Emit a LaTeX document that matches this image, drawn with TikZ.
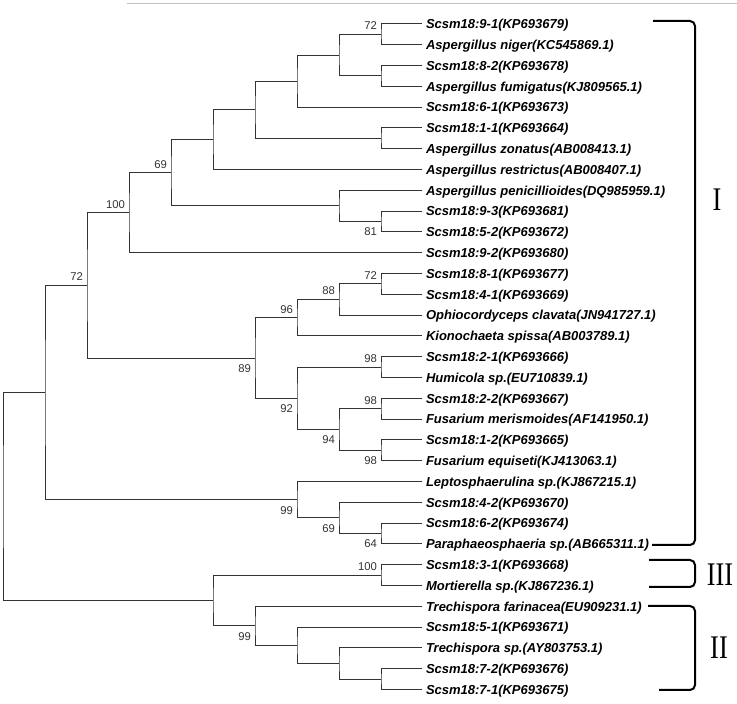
\documentclass[tikz,border=0pt]{standalone}
\usepackage{fontspec}
\usepackage{tikz}
\usetikzlibrary{calc}
\newfontfamily\treefont{Liberation Sans}
\newfontfamily\romanfont{Liberation Serif}

\begin{document}
\begin{tikzpicture}[x=1pt,y=1pt,inner sep=0pt,outer sep=0pt,
    branch/.style={draw=black!80,line width=1pt},
    leaf/.style={anchor=west,inner xsep=4pt,text height=9.3pt,text depth=0pt,
        font=\treefont\bfseries\itshape\fontsize{13}{14}\selectfont},
    bsup/.style={anchor=south east,text=black!80,font=\treefont\fontsize{11.3}{12}\selectfont},
    bsdown/.style={anchor=north east,text=black!80,font=\treefont\fontsize{11.3}{12}\selectfont},
    clade/.style={draw=black,line width=2pt,rounded corners=5pt},
    cladename/.style={font=\romanfont\fontsize{33}{33}\selectfont}]
    %
    \useasboundingbox (0,0) rectangle (737,704);
    \draw[black!25,line width=0.8pt] (127,701) -- (737,701);
    %
    % leaves
    \foreach \lname [count=\i] in {
        {Scsm18:9-1(KP693679)}, {Aspergillus niger(KC545869.1)},
        {Scsm18:8-2(KP693678)}, {Aspergillus fumigatus(KJ809565.1)},
        {Scsm18:6-1(KP693673)}, {Scsm18:1-1(KP693664)},
        {Aspergillus zonatus(AB008413.1)}, {Aspergillus restrictus(AB008407.1)},
        {Aspergillus penicillioides(DQ985959.1)}, {Scsm18:9-3(KP693681)},
        {Scsm18:5-2(KP693672)}, {Scsm18:9-2(KP693680)},
        {Scsm18:8-1(KP693677)}, {Scsm18:4-1(KP693669)},
        {Ophiocordyceps clavata(JN941727.1)}, {Kionochaeta spissa(AB003789.1)},
        {Scsm18:2-1(KP693666)}, {Humicola sp.(EU710839.1)},
        {Scsm18:2-2(KP693667)}, {Fusarium merismoides(AF141950.1)},
        {Scsm18:1-2(KP693665)}, {Fusarium equiseti(KJ413063.1)},
        {Leptosphaerulina sp.(KJ867215.1)}, {Scsm18:4-2(KP693670)},
        {Scsm18:6-2(KP693674)}, {Paraphaeosphaeria sp.(AB665311.1)},
        {Scsm18:3-1(KP693668)}, {Mortierella sp.(KJ867236.1)},
        {Trechispora farinacea(EU909231.1)}, {Scsm18:5-1(KP693671)},
        {Trechispora sp.(AY803753.1)}, {Scsm18:7-2(KP693676)},
        {Scsm18:7-1(KP693675)}}
    {
        \node[leaf] (t\i) at (422,{680-20.8*(\i-1)}) {\lname};
    }
    %
    % inner nodes
    \coordinate (a1) at (381,669.6);
    \coordinate (a2) at (381,628);
    \coordinate (a3) at (339,648.8);
    \coordinate (a4) at (297,622.8);
    \coordinate (a5) at (381,565.6);
    \coordinate (a6) at (255,594.2);
    \coordinate (a7) at (213,564.3);
    \coordinate (a8) at (381,482.4);
    \coordinate (a9) at (339,498);
    \coordinate (a10) at (171,531.2);
    \coordinate (a11) at (129,491.2);
    \coordinate (b1) at (381,420);
    \coordinate (b2) at (339,404.4);
    \coordinate (b3) at (297,386.2);
    \coordinate (b4) at (381,336.8);
    \coordinate (b5) at (381,295.2);
    \coordinate (b6) at (381,253.6);
    \coordinate (b7) at (339,274.4);
    \coordinate (b8) at (297,305.6);
    \coordinate (b9) at (255,345.9);
    \coordinate (a12) at (87,418.6);
    \coordinate (c1) at (381,170.4);
    \coordinate (c2) at (339,186);
    \coordinate (c3) at (297,204.2);
    \coordinate (a13) at (45,311.4);
    \coordinate (d1) at (381,128.8);
    \coordinate (d2) at (381,24.8);
    \coordinate (d3) at (339,40.4);
    \coordinate (d4) at (297,58.6);
    \coordinate (d5) at (255,78.1);
    \coordinate (d6) at (213,103.5);
    \coordinate (root) at (3,207.4);
    %
    % branches
    \draw[branch] (t1) -| (a1) |- (t2);
    \draw[branch] (t3) -| (a2) |- (t4);
    \draw[branch] (a1) -| (a3) |- (a2);
    \draw[branch] (a3) -| (a4) |- (t5);
    \draw[branch] (t6) -| (a5) |- (t7);
    \draw[branch] (a4) -| (a6) |- (a5);
    \draw[branch] (a6) -| (a7) |- (t8);
    \draw[branch] (t10) -| (a8) |- (t11);
    \draw[branch] (t9) -| (a9) |- (a8);
    \draw[branch] (a7) -| (a10) |- (a9);
    \draw[branch] (a10) -| (a11) |- (t12);
    \draw[branch] (t13) -| (b1) |- (t14);
    \draw[branch] (b1) -| (b2) |- (t15);
    \draw[branch] (b2) -| (b3) |- (t16);
    \draw[branch] (t17) -| (b4) |- (t18);
    \draw[branch] (t19) -| (b5) |- (t20);
    \draw[branch] (t21) -| (b6) |- (t22);
    \draw[branch] (b5) -| (b7) |- (b6);
    \draw[branch] (b4) -| (b8) |- (b7);
    \draw[branch] (b3) -| (b9) |- (b8);
    \draw[branch] (a11) -| (a12) |- (b9);
    \draw[branch] (t25) -| (c1) |- (t26);
    \draw[branch] (t24) -| (c2) |- (c1);
    \draw[branch] (t23) -| (c3) |- (c2);
    \draw[branch] (a12) -| (a13) |- (c3);
    \draw[branch] (t27) -| (d1) |- (t28);
    \draw[branch] (t32) -| (d2) |- (t33);
    \draw[branch] (t31) -| (d3) |- (d2);
    \draw[branch] (t30) -| (d4) |- (d3);
    \draw[branch] (t29) -| (d5) |- (d4);
    \draw[branch] (d1) -| (d6) |- (d5);
    \draw[branch] (a13) -| (root) |- (d6);
    %
    % bootstrap values
    \node[bsup] (s1) at ($(a1)+(-4,4.5)$) {72};
    \node[bsup] (s2) at ($(a10)+(-4,4.5)$) {69};
    \node[bsup] (s3) at ($(a11)+(-4,4.5)$) {100};
    \node[bsup] (s4) at ($(a12)+(-4,4.5)$) {72};
    \node[bsup] (s5) at ($(b1)+(-4,4.5)$) {72};
    \node[bsup] (s6) at ($(b2)+(-4,4.5)$) {88};
    \node[bsup] (s7) at ($(b3)+(-4,4.5)$) {96};
    \node[bsup] (s8) at ($(b4)+(-4,4.5)$) {98};
    \node[bsup] (s9) at ($(b5)+(-4,4.5)$) {98};
    \node[bsup] (s10) at ($(d1)+(-4,4.5)$) {100};
    \node[bsdown] (s11) at ($(a8)+(-4,-6.5)$) {81};
    \node[bsdown] (s12) at ($(b6)+(-4,-6.5)$) {98};
    \node[bsdown] (s13) at ($(b7)+(-4,-6.5)$) {94};
    \node[bsdown] (s14) at ($(b8)+(-4,-6.5)$) {92};
    \node[bsdown] (s15) at ($(b9)+(-4,-6.5)$) {89};
    \node[bsdown] (s16) at ($(c3)+(-4,-6.5)$) {99};
    \node[bsdown] (s17) at ($(c2)+(-4,-6.5)$) {69};
    \node[bsdown] (s18) at ($(c1)+(-4,-6.5)$) {64};
    \node[bsdown] (s19) at ($(d5)+(-4,-6.5)$) {99};
    %
    % clades
    \draw[clade] (653,683) -- (695,683) -- (695,159) -- (652,159);
    \draw[clade] (649,144) -- (695,144) -- (695,117) -- (649,117);
    \draw[clade] (648,98) -- (695,98) -- (695,14) -- (659,14);
    \node[cladename] (cI) at (717,504) {\scalebox{0.8}[1]{I}};
    \node[cladename] (cIII) at (720,129) {\scalebox{0.8}[1]{III}};
    \node[cladename] (cII) at (719,56) {\scalebox{0.8}[1]{II}};

\end{tikzpicture}
\end{document}
